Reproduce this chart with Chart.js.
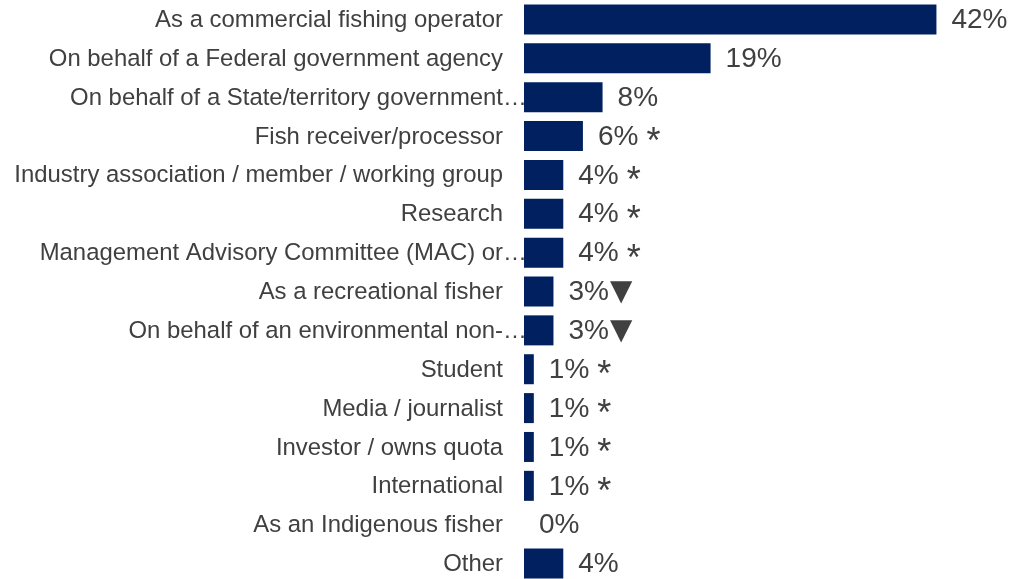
<!DOCTYPE html>
<html>
<head>
<meta charset="utf-8">
<script src="https://cdn.jsdelivr.net/npm/chart.js@4.4.1/dist/chart.umd.min.js"></script>
<style>
    html, body { margin: 0; padding: 0; background: #fff; overflow: hidden; }
    #wrapper { position: relative; width: 1015px; height: 583px; }
</style>
</head>
<body>
<div id="wrapper"><canvas id="chart"></canvas></div>
<script>
// Respondent role
const categories = [
    'As a commercial fishing operator',
    'On behalf of a Federal government agency',
    'On behalf of a State/territory government…',
    'Fish receiver/processor',
    'Industry association / member / working group',
    'Research',
    'Management Advisory Committee (MAC) or…',
    'As a recreational fisher',
    'On behalf of an environmental non-…',
    'Student',
    'Media / journalist',
    'Investor / owns quota',
    'International',
    'As an Indigenous fisher',
    'Other'
];
const values = [42, 19, 8, 6, 4, 4, 4, 3, 3, 1, 1, 1, 1, 0, 4];
// significance markers after the value label
const markers = ['', '', '', '*', '*', '*', '*', '▼', '▼', '*', '*', '*', '*', '', ''];

const BAR_COLOR = '#002060';
const TEXT_COLOR = '#404040';
const FONT = '"Liberation Sans", Arial, sans-serif';

// Category names, right aligned against the bars; a trailing ellipsis hangs past the edge
const categoryLabels = {
    id: 'categoryLabels',
    afterDraw(chart) {
        let ctx = chart.ctx;
        let yScale = chart.scales.y;
        let right = chart.chartArea.left - 21;
        ctx.save();
        ctx.fillStyle = TEXT_COLOR;
        ctx.font = '23.9px ' + FONT;
        ctx.textBaseline = 'middle';
        for (let i = 0; i < categories.length; i++) {
            let y = yScale.getPixelForTick(i) + 1;
            let text = categories[i];
            if (text.endsWith('…')) {
                let head = text.slice(0, -1);
                ctx.textAlign = 'right';
                ctx.fillText(head, right, y);
                ctx.textAlign = 'left';
                ctx.fillText('…', right, y);
            } else {
                ctx.textAlign = 'right';
                ctx.fillText(text, right, y);
            }
        }
        ctx.restore();
    }
};

// Percentages and markers at the end of each bar
const valueLabels = {
    id: 'valueLabels',
    afterDatasetsDraw(chart) {
        let ctx = chart.ctx;
        let bars = chart.getDatasetMeta(0).data;
        ctx.save();
        ctx.fillStyle = TEXT_COLOR;
        ctx.textBaseline = 'middle';
        ctx.textAlign = 'left';
        for (let i = 0; i < bars.length; i++) {
            let bar = bars[i];
            let x = bar.x + 15;
            let text = values[i] + '%';
            ctx.font = '28px ' + FONT;
            ctx.fillText(text, x, bar.y + 1);
            x += ctx.measureText(text).width;
            if (markers[i] === '*') {
                ctx.font = '36px ' + FONT;
                ctx.textBaseline = 'alphabetic';
                ctx.fillText('*', x + 8, bar.y + 17);
                ctx.textBaseline = 'middle';
            } else if (markers[i] === '▼') {
                ctx.font = '29px "DejaVu Sans", sans-serif';
                ctx.fillText('▼', x + 1, bar.y + 1);
            }
        }
        ctx.restore();
    }
};

let ctx = document.getElementById('chart').getContext('2d');
let chart = new Chart(ctx, {
    type: 'bar',
    data: {
        labels: categories,
        datasets: [{
            data: values,
            backgroundColor: BAR_COLOR,
            borderWidth: 0,
            barPercentage: 0.772,
            categoryPercentage: 1.0
        }]
    },
    options: {
        indexAxis: 'y',
        responsive: true,
        maintainAspectRatio: false,
        animation: false,
        layout: { padding: { left: 524, right: 0, top: 0, bottom: 0 } },
        scales: {
            x: { display: false, min: 0, max: 50 },
            y: { display: false }
        },
        plugins: {
            legend: { display: false },
            tooltip: { enabled: false }
        }
    },
    plugins: [categoryLabels, valueLabels]
});
</script>
</body>
</html>
